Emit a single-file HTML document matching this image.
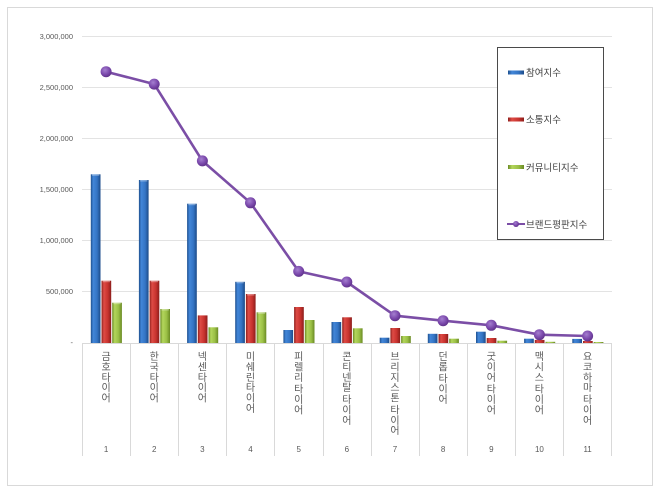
<!DOCTYPE html>
<html><head><meta charset="utf-8"><style>
html,body{margin:0;padding:0;background:#fff;}
svg{display:block;}
text{font-family:"Liberation Sans","Noto Sans CJK KR","NanumGothic",sans-serif;}
</style></head><body>
<svg width="660" height="493" viewBox="0 0 660 493" xmlns="http://www.w3.org/2000/svg">
<defs>
<linearGradient id="gb" x1="0" y1="0" x2="1" y2="0">
<stop offset="0" stop-color="#1d4f8e"/><stop offset="0.25" stop-color="#4286d8"/><stop offset="0.65" stop-color="#3474c4"/><stop offset="1" stop-color="#1c4b88"/></linearGradient>
<linearGradient id="gr" x1="0" y1="0" x2="1" y2="0">
<stop offset="0" stop-color="#8e1f1c"/><stop offset="0.25" stop-color="#de4b45"/><stop offset="0.65" stop-color="#c8332f"/><stop offset="1" stop-color="#8c1e1b"/></linearGradient>
<linearGradient id="gg" x1="0" y1="0" x2="1" y2="0">
<stop offset="0" stop-color="#6a8a24"/><stop offset="0.25" stop-color="#b3d65c"/><stop offset="0.65" stop-color="#9bc046"/><stop offset="1" stop-color="#6a8a24"/></linearGradient>
<radialGradient id="gm" cx="0.4" cy="0.35" r="0.7">
<stop offset="0" stop-color="#a57fd0"/><stop offset="0.6" stop-color="#7a48ab"/><stop offset="1" stop-color="#5b2f85"/></radialGradient>
</defs>
<rect x="0" y="0" width="660" height="493" fill="#fff"/>
<rect x="7.5" y="7.5" width="645" height="478" fill="none" stroke="#d9d9d9" stroke-width="1"/>

<!-- gridlines -->
<g stroke="#e3e3e3" stroke-width="1">
<line x1="82" y1="36.5" x2="612" y2="36.5"/>
<line x1="82" y1="87.5" x2="612" y2="87.5"/>
<line x1="82" y1="138.5" x2="612" y2="138.5"/>
<line x1="82" y1="189.5" x2="612" y2="189.5"/>
<line x1="82" y1="240.5" x2="612" y2="240.5"/>
<line x1="82" y1="291.5" x2="612" y2="291.5"/>
</g>
<!-- y labels -->
<g font-size="7.5" fill="#595959" text-anchor="end">
<text x="73" y="39">3,000,000</text>
<text x="73" y="90">2,500,000</text>
<text x="73" y="141">2,000,000</text>
<text x="73" y="192">1,500,000</text>
<text x="73" y="243">1,000,000</text>
<text x="73" y="294">500,000</text>
<text x="73" y="345">-</text>
</g>

<!-- category axis & dividers -->
<g stroke="#d9d9d9" stroke-width="1">
<line x1="82" y1="343.5" x2="612" y2="343.5"/>
<line x1="82.5" y1="343" x2="82.5" y2="456"/>
<line x1="130.5" y1="343" x2="130.5" y2="456"/>
<line x1="178.5" y1="343" x2="178.5" y2="456"/>
<line x1="226.5" y1="343" x2="226.5" y2="456"/>
<line x1="274.5" y1="343" x2="274.5" y2="456"/>
<line x1="323.5" y1="343" x2="323.5" y2="456"/>
<line x1="371.5" y1="343" x2="371.5" y2="456"/>
<line x1="419.5" y1="343" x2="419.5" y2="456"/>
<line x1="467.5" y1="343" x2="467.5" y2="456"/>
<line x1="515.5" y1="343" x2="515.5" y2="456"/>
<line x1="563.5" y1="343" x2="563.5" y2="456"/>
<line x1="611.5" y1="343" x2="611.5" y2="456"/>
</g>

<!-- blue bars -->
<g fill="url(#gb)">
<rect x="90.8" y="174.3" width="9.7" height="168.7"/>
<rect x="138.9" y="180" width="9.7" height="163"/>
<rect x="187.1" y="203.7" width="9.7" height="139.3"/>
<rect x="235.2" y="281.8" width="9.7" height="61.2"/>
<rect x="283.4" y="330" width="9.7" height="13"/>
<rect x="331.5" y="322" width="9.7" height="21"/>
<rect x="379.7" y="337.7" width="9.7" height="5.3"/>
<rect x="427.8" y="333.8" width="9.7" height="9.2"/>
<rect x="476" y="331.7" width="9.7" height="11.3"/>
<rect x="524.1" y="338.7" width="9.7" height="4.3"/>
<rect x="572.3" y="338.9" width="9.7" height="4.1"/>
</g>
<!-- red bars -->
<g fill="url(#gr)">
<rect x="101.5" y="280.7" width="9.7" height="62.3"/>
<rect x="149.6" y="280.7" width="9.7" height="62.3"/>
<rect x="197.8" y="315.4" width="9.7" height="27.6"/>
<rect x="245.9" y="294" width="9.7" height="49"/>
<rect x="294.1" y="307" width="9.7" height="36"/>
<rect x="342.2" y="317.3" width="9.7" height="25.7"/>
<rect x="390.4" y="328" width="9.7" height="15"/>
<rect x="438.5" y="334" width="9.7" height="9"/>
<rect x="486.7" y="338" width="9.7" height="5"/>
<rect x="534.8" y="339.9" width="9.7" height="3.1"/>
<rect x="583" y="341" width="9.7" height="2"/>
</g>
<!-- green bars -->
<g fill="url(#gg)">
<rect x="112.2" y="302.7" width="9.7" height="40.3"/>
<rect x="160.3" y="309" width="9.7" height="34"/>
<rect x="208.5" y="327.3" width="9.7" height="15.7"/>
<rect x="256.6" y="312.3" width="9.7" height="30.7"/>
<rect x="304.8" y="320" width="9.7" height="23"/>
<rect x="352.9" y="328.3" width="9.7" height="14.7"/>
<rect x="401.1" y="336" width="9.7" height="7"/>
<rect x="449.2" y="338.7" width="9.7" height="4.3"/>
<rect x="497.4" y="340.7" width="9.7" height="2.3"/>
<rect x="545.5" y="341.8" width="9.7" height="1.2"/>
<rect x="593.7" y="342" width="9.7" height="1"/>
</g>
<!-- bar top highlights -->
<g fill="#ffffff" opacity="0.35">
<rect x="92" y="174.3" width="7.3" height="1.5"/>
<rect x="140.1" y="180" width="7.3" height="1.5"/>
<rect x="188.3" y="203.7" width="7.3" height="1.5"/>
<rect x="236.4" y="281.8" width="7.3" height="1.5"/>
<rect x="102.7" y="280.7" width="7.3" height="1.5"/>
<rect x="150.8" y="280.7" width="7.3" height="1.5"/>
<rect x="247.1" y="294" width="7.3" height="1.5"/>
<rect x="113.4" y="302.7" width="7.3" height="1.5"/>
<rect x="161.5" y="309" width="7.3" height="1.5"/>
<rect x="257.8" y="312.3" width="7.3" height="1.5"/>
</g>

<!-- line series -->
<polyline fill="none" stroke="#7b4ea6" stroke-width="2.6" stroke-linejoin="round"
points="106.1,71.7 154.2,84.1 202.4,160.9 250.5,202.8 298.7,271.4 346.8,282 395,315.7 443.1,320.7 491.3,325.3 539.4,334.7 587.6,336"/>
<g fill="url(#gm)">
<circle cx="106.1" cy="71.7" r="5.5"/>
<circle cx="154.2" cy="84.1" r="5.5"/>
<circle cx="202.4" cy="160.9" r="5.5"/>
<circle cx="250.5" cy="202.8" r="5.5"/>
<circle cx="298.7" cy="271.4" r="5.5"/>
<circle cx="346.8" cy="282" r="5.5"/>
<circle cx="395" cy="315.7" r="5.5"/>
<circle cx="443.1" cy="320.7" r="5.5"/>
<circle cx="491.3" cy="325.3" r="5.5"/>
<circle cx="539.4" cy="334.7" r="5.5"/>
<circle cx="587.6" cy="336" r="5.5"/>
</g>

<!-- category labels (vertical) -->
<g font-size="10" fill="#595959" text-anchor="middle">
<text x="106.1" y="360"><tspan x="106.1">금</tspan><tspan x="106.1" dy="10.4">호</tspan><tspan x="106.1" dy="10.4">타</tspan><tspan x="106.1" dy="10.4">이</tspan><tspan x="106.1" dy="10.4">어</tspan></text>
<text x="154.2" y="360"><tspan x="154.2">한</tspan><tspan x="154.2" dy="10.4">국</tspan><tspan x="154.2" dy="10.4">타</tspan><tspan x="154.2" dy="10.4">이</tspan><tspan x="154.2" dy="10.4">어</tspan></text>
<text x="202.4" y="360"><tspan x="202.4">넥</tspan><tspan x="202.4" dy="10.4">센</tspan><tspan x="202.4" dy="10.4">타</tspan><tspan x="202.4" dy="10.4">이</tspan><tspan x="202.4" dy="10.4">어</tspan></text>
<text x="250.5" y="360"><tspan x="250.5">미</tspan><tspan x="250.5" dy="10.4">쉐</tspan><tspan x="250.5" dy="10.4">린</tspan><tspan x="250.5" dy="10.4">타</tspan><tspan x="250.5" dy="10.4">이</tspan><tspan x="250.5" dy="10.4">어</tspan></text>
<text x="298.7" y="360"><tspan x="298.7">피</tspan><tspan x="298.7" dy="10.4">렐</tspan><tspan x="298.7" dy="10.4">리</tspan><tspan x="298.7" dy="11.8">타</tspan><tspan x="298.7" dy="10.4">이</tspan><tspan x="298.7" dy="10.4">어</tspan></text>
<text x="346.8" y="360"><tspan x="346.8">콘</tspan><tspan x="346.8" dy="10.4">티</tspan><tspan x="346.8" dy="10.4">넨</tspan><tspan x="346.8" dy="10.4">탈</tspan><tspan x="346.8" dy="11.8">타</tspan><tspan x="346.8" dy="10.4">이</tspan><tspan x="346.8" dy="10.4">어</tspan></text>
<text x="395" y="360"><tspan x="395">브</tspan><tspan x="395" dy="10.4">리</tspan><tspan x="395" dy="10.4">지</tspan><tspan x="395" dy="10.4">스</tspan><tspan x="395" dy="10.4">톤</tspan><tspan x="395" dy="11.8">타</tspan><tspan x="395" dy="10.4">이</tspan><tspan x="395" dy="10.4">어</tspan></text>
<text x="443.1" y="360"><tspan x="443.1">던</tspan><tspan x="443.1" dy="10.4">롭</tspan><tspan x="443.1" dy="11.8">타</tspan><tspan x="443.1" dy="10.4">이</tspan><tspan x="443.1" dy="10.4">어</tspan></text>
<text x="491.3" y="360"><tspan x="491.3">굿</tspan><tspan x="491.3" dy="10.4">이</tspan><tspan x="491.3" dy="10.4">어</tspan><tspan x="491.3" dy="11.8">타</tspan><tspan x="491.3" dy="10.4">이</tspan><tspan x="491.3" dy="10.4">어</tspan></text>
<text x="539.4" y="360"><tspan x="539.4">맥</tspan><tspan x="539.4" dy="10.4">시</tspan><tspan x="539.4" dy="10.4">스</tspan><tspan x="539.4" dy="11.8">타</tspan><tspan x="539.4" dy="10.4">이</tspan><tspan x="539.4" dy="10.4">어</tspan></text>
<text x="587.6" y="360"><tspan x="587.6">요</tspan><tspan x="587.6" dy="10.4">코</tspan><tspan x="587.6" dy="10.4">하</tspan><tspan x="587.6" dy="10.4">마</tspan><tspan x="587.6" dy="11.8">타</tspan><tspan x="587.6" dy="10.4">이</tspan><tspan x="587.6" dy="10.4">어</tspan></text>
</g>
<g font-size="8" fill="#595959" text-anchor="middle">
<text x="106.1" y="452">1</text>
<text x="154.2" y="452">2</text>
<text x="202.4" y="452">3</text>
<text x="250.5" y="452">4</text>
<text x="298.7" y="452">5</text>
<text x="346.8" y="452">6</text>
<text x="395" y="452">7</text>
<text x="443.1" y="452">8</text>
<text x="491.3" y="452">9</text>
<text x="539.4" y="452">10</text>
<text x="587.6" y="452">11</text>
</g>

<!-- legend -->
<rect x="497.5" y="47.5" width="106" height="192" fill="#fff" stroke="#4a4a4a" stroke-width="1"/>
<rect x="508" y="70.5" width="16" height="4" fill="url(#gb)"/>
<rect x="508" y="117.5" width="16" height="4" fill="url(#gr)"/>
<rect x="508" y="165" width="16" height="4" fill="url(#gg)"/>
<line x1="507" y1="224" x2="525" y2="224" stroke="#7b4ea6" stroke-width="2"/>
<circle cx="516" cy="224" r="3" fill="url(#gm)"/>
<g font-size="9.5" fill="#404040">
<text x="526" y="76">참여지수</text>
<text x="526" y="123">소통지수</text>
<text x="526" y="171">커뮤니티지수</text>
<text x="526" y="228">브랜드평판지수</text>
</g>
</svg>
</body></html>
